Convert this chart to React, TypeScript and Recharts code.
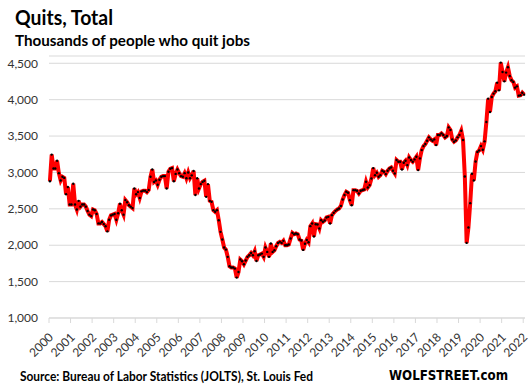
import React from "react";
import { LineChart, Line, XAxis, YAxis, CartesianGrid } from "recharts";

// JOLTS quits, thousands, monthly (first value is Dec 2000)
const q2000 = [2880];
const q2001 = [3245, 3055, 3055, 3160, 2990, 2890, 2940, 2925, 2700, 2800, 2560, 2560];
const q2002 = [2845, 2560, 2490, 2610, 2530, 2560, 2560, 2530, 2470, 2420, 2400, 2490];
const q2003 = [2480, 2430, 2300, 2300, 2320, 2290, 2260, 2190, 2350, 2410, 2420, 2430];
const q2004 = [2350, 2440, 2570, 2480, 2420, 2620, 2590, 2550, 2530, 2510, 2780, 2700];
const q2005 = [2730, 2650, 2740, 2750, 2750, 2730, 2760, 2940, 3040, 2870, 2890, 2830];
const q2006 = [2900, 2940, 2950, 2950, 2780, 3010, 3050, 3060, 2880, 2980, 3040, 2990];
const q2007 = [2950, 2940, 2990, 2920, 3000, 2920, 2960, 3020, 2690, 2920, 2780, 2840];
const q2008 = [2870, 2885, 2665, 2840, 2610, 2596, 2482, 2460, 2482, 2344, 2184, 2078];
const q2009 = [1968, 1940, 1840, 1711, 1693, 1693, 1679, 1555, 1633, 1803, 1780, 1739];
const q2010 = [1790, 1840, 1862, 1894, 1862, 1917, 1784, 1862, 1872, 1885, 1840, 1968];
const q2011 = [1908, 1840, 2023, 1908, 1931, 1986, 2032, 2046, 2032, 2060, 2000, 2000];
const q2012 = [2010, 2092, 2170, 2151, 2161, 2151, 2078, 2064, 1936, 2020, 2073, 2041];
const q2013 = [2262, 2298, 2120, 2289, 2284, 2229, 2344, 2321, 2340, 2381, 2390, 2298];
const q2014 = [2413, 2445, 2472, 2491, 2505, 2540, 2628, 2690, 2734, 2720, 2619, 2550];
const q2015 = [2757, 2757, 2748, 2711, 2748, 2757, 2766, 2872, 2794, 2826, 2917, 3060];
const q2016 = [2963, 2995, 2940, 2963, 3023, 3009, 2977, 3023, 3055, 3069, 3023, 2986];
const q2017 = [3170, 3147, 3147, 3041, 3133, 3161, 3101, 3206, 3170, 3147, 3179, 3215];
const q2018 = [3032, 3193, 3307, 3362, 3390, 3436, 3482, 3454, 3436, 3454, 3376, 3514];
const q2019 = [3514, 3537, 3514, 3482, 3500, 3619, 3583, 3454, 3422, 3440, 3482, 3514];
const q2020 = [3573, 3445, 2945, 2032, 2243, 2578, 2982, 2890, 3151, 3280, 3303, 3362];
const q2021 = [3312, 3427, 3693, 4014, 3830, 4037, 4083, 4115, 4234, 4128, 4509, 4381];
const q2022 = [4252, 4372, 4445, 4326, 4266, 4243, 4165, 4183, 4055, 4060, 4096, 4069];

const years = [
  2000, 2001, 2002, 2003, 2004, 2005, 2006, 2007, 2008, 2009, 2010, 2011,
  2012, 2013, 2014, 2015, 2016, 2017, 2018, 2019, 2020, 2021, 2022,
];
const yTicks = [1000, 1500, 2000, 2500, 3000, 3500, 4000, 4500];

const months = [
  q2000, q2001, q2002, q2003, q2004, q2005, q2006, q2007, q2008, q2009, q2010, q2011,
  q2012, q2013, q2014, q2015, q2016, q2017, q2018, q2019, q2020, q2021, q2022,
].flat();

// each month sits in the middle of its slot on the axis
const data = months.map((v, i) => ({ m: i + 0.5, quits: v }));
const xTicks = years.map((_, k) => k * 12);

const FONT = "Lato, 'Open Sans', sans-serif";

const YearTick = (props: any) => {
  const { x, y, payload } = props;
  const px = x + 5;
  const py = y + 13;
  return (
    <text
      x={px}
      y={py}
      transform={`rotate(-45, ${px}, ${py})`}
      textAnchor="end"
      fontSize={12}
      fontFamily={FONT}
      fill="#333"
    >
      {years[payload.value / 12]}
    </text>
  );
};

export default function App() {
  return (
    <div style={{ position: "absolute", left: 0, top: 0, width: 529, height: 390, background: "#fff" }}>
      <LineChart
        width={529}
        height={390}
        data={data}
        margin={{ top: 56, right: 4, left: 0, bottom: 0 }}
      >
        <CartesianGrid vertical={false} stroke="#d9d9d9" />
        <XAxis
          type="number"
          dataKey="m"
          domain={[0, 265]}
          ticks={xTicks}
          interval={0}
          height={72}
          stroke="#d9d9d9"
          tickSize={5}
          tick={<YearTick />}
        />
        <YAxis
          domain={[1000, 4600]}
          ticks={yTicks}
          width={49}
          axisLine={false}
          tickLine={false}
          tickMargin={5}
          tickFormatter={(v: number) => v.toLocaleString("en-US")}
          tick={{ fontSize: 12, fill: "#333", fontFamily: FONT }}
        />
        <Line
          type="linear"
          dataKey="quits"
          stroke="#ff0000"
          strokeWidth={4}
          dot={{ r: 1.2, fill: "#000", stroke: "#000", strokeWidth: 0 }}
          isAnimationActive={false}
        />
      </LineChart>
      <svg
        width={529}
        height={390}
        style={{ position: "absolute", left: 0, top: 0, pointerEvents: "none" }}
      >
        <text x={15} y={25} fontFamily={FONT} fontWeight={700} fontSize={20} fill="#000" textLength={98} lengthAdjust="spacingAndGlyphs">
          Quits,  Total
        </text>
        <text x={15} y={46} fontFamily={FONT} fontWeight={700} fontSize={15} fill="#000" textLength={235} lengthAdjust="spacingAndGlyphs">
          Thousands of people who quit jobs
        </text>
        <text x={20} y={381} fontFamily={FONT} fontWeight={700} fontSize={13} fill="#000" textLength={293} lengthAdjust="spacingAndGlyphs">
          Source: Bureau of Labor Statistics (JOLTS), St. Louis Fed
        </text>
        <text x={389} y={380} fontFamily="'DejaVu Sans', sans-serif" fontWeight={700} fontSize={14} fill="#000" textLength={119} lengthAdjust="spacingAndGlyphs">
          WOLFSTREET.com
        </text>
      </svg>
    </div>
  );
}
